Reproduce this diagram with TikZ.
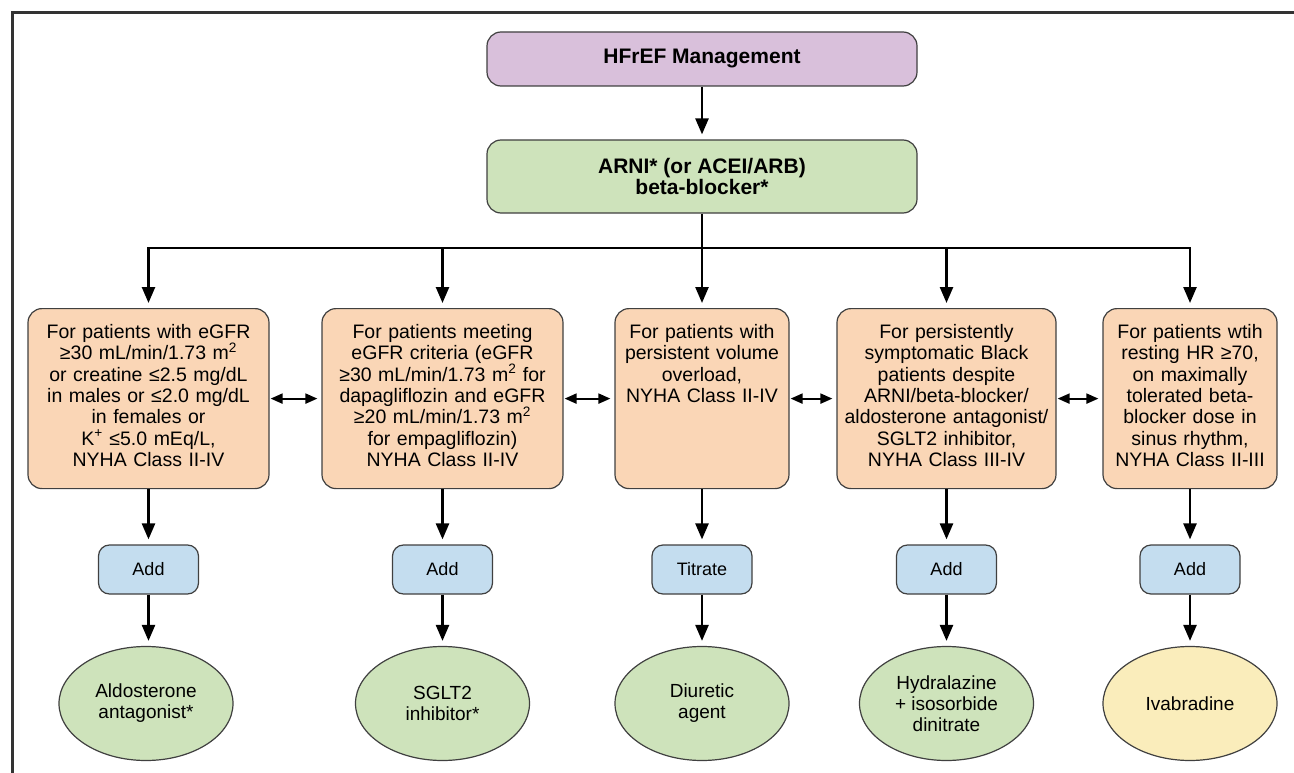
\documentclass[tikz,border=0pt]{standalone}
\usepackage{fontspec}
\setmainfont{Liberation Sans}
\usetikzlibrary{arrows.meta,shapes.geometric}

\definecolor{hfpurple}{RGB}{217,192,219}
\definecolor{rxgreen}{RGB}{206,227,187}
\definecolor{critpeach}{RGB}{250,214,182}
\definecolor{addblue}{RGB}{196,221,239}
\definecolor{ivayellow}{RGB}{250,237,187}
\definecolor{edgegrey}{RGB}{64,64,64}

\tikzset{
	box/.style={draw=edgegrey, line width=1.2pt, rounded corners=14pt},
	headbox/.style={box, minimum width=430pt, align=center, inner sep=0pt, font=\bfseries\fontsize{21}{21.5}\selectfont},
	crit/.style={box, fill=critpeach, anchor=north, align=center, inner xsep=4pt, inner ysep=6pt, text height=24pt, text depth=144pt, font=\fontsize{19.5}{21.3}\selectfont},
	addbox/.style={box, fill=addblue, rounded corners=11pt, minimum width=100pt, minimum height=49pt, inner sep=0pt, font=\fontsize{18}{20}\selectfont},
	drug/.style={ellipse, draw=edgegrey, line width=1.2pt, fill=rxgreen, minimum width=174pt, minimum height=114pt, inner sep=0pt, align=center, font=\fontsize{19}{21}\selectfont},
	go/.style={line width=2.5pt, -{Triangle[length=16pt,width=13pt]}, shorten >=5pt},
	link/.style={line width=2pt, {Triangle[length=12pt,width=10pt]}-{Triangle[length=12pt,width=10pt]}, shorten <=1pt, shorten >=4pt}
}

\begin{document}
\begin{tikzpicture}[x=1pt,y=-1pt]
		%%%%% START %%%%%
		\useasboundingbox (0,0) rectangle (1294,773);
		\draw[line width=3pt, draw=black!80] (12,773) -- (12,13) -- (1294,13);
		
		\node[headbox, fill=hfpurple, minimum height=54pt] (hf) at (702,59) {HFrEF Management};
		\node[headbox, fill=rxgreen, minimum height=73pt] (arni) at (702,176.5) {ARNI* (or ACEI/ARB)\\beta-blocker*};
		\draw[go] (hf) -- (arni);
		
		% criteria
		\node[crit, text width=233pt] (c1) at (148.5,308) {For patients with eGFR\\≥30 mL/min/1.73 m\textsuperscript{2}\\or creatine ≤2.5 mg/dL\\in males or ≤2.0 mg/dL\\in females or\\K\textsuperscript{+} ≤5.0 mEq/L,\\NYHA Class II-IV};
		\node[crit, text width=233pt] (c2) at (442.5,308) {For patients meeting\\eGFR criteria (eGFR\\≥30 mL/min/1.73 m\textsuperscript{2} for\\dapagliflozin and eGFR\\≥20 mL/min/1.73 m\textsuperscript{2}\\for empagliflozin)\\NYHA Class II-IV};
		\node[crit, text width=166pt] (c3) at (702,308) {For patients with\\persistent volume\\overload,\\NYHA Class II-IV};
		\node[crit, text width=211pt] (c4) at (946.5,308) {For persistently\\symptomatic Black\\patients despite\\ARNI/beta-blocker/\\aldosterone antagonist/\\SGLT2 inhibitor,\\NYHA Class III-IV};
		\node[crit, text width=166pt] (c5) at (1190,308) {For patients wtih\\resting HR ≥70,\\on maximally\\tolerated beta-\\blocker dose in\\sinus rhythm,\\NYHA Class II-III};
		
		\coordinate (bus) at (702,248);
		\draw[line width=2.5pt] (arni) -- (bus);
		\draw[line width=2.5pt, line cap=rect] (c1.north |- bus) -- (c5.north |- bus);
		\foreach \c in {c1,c2,c3,c4,c5}
			\draw[go] (\c.north |- bus) -- (\c.north);
		
		\draw[link] (c1) -- (c2);
		\draw[link] (c2) -- (c3);
		\draw[link] (c3) -- (c4);
		\draw[link] (c4) -- (c5);
		
		% steps
		\node[addbox] (a1) at (148.5,569.5) {Add};
		\node[addbox] (a2) at (442.5,569.5) {Add};
		\node[addbox] (a3) at (702,569.5) {Titrate};
		\node[addbox] (a4) at (946.5,569.5) {Add};
		\node[addbox] (a5) at (1190,569.5) {Add};
		
		% drugs
		\node[drug] (d1) at (146,703.5) {Aldosterone\\antagonist*};
		\node[drug] (d2) at (442.5,703.5) {SGLT2\\inhibitor*};
		\node[drug] (d3) at (702,703.5) {Diuretic\\agent};
		\node[drug] (d4) at (946.5,703.5) {Hydralazine\\+ isosorbide\\dinitrate};
		\node[drug, fill=ivayellow] (d5) at (1190,703.5) {Ivabradine};
		
		\foreach \i in {1,...,5} {
			\draw[go] (c\i) -- (a\i);
			\draw[go] (a\i) -- (a\i |- d\i.north);
		}
		%%%%% END %%%%%
\end{tikzpicture}
\end{document}
